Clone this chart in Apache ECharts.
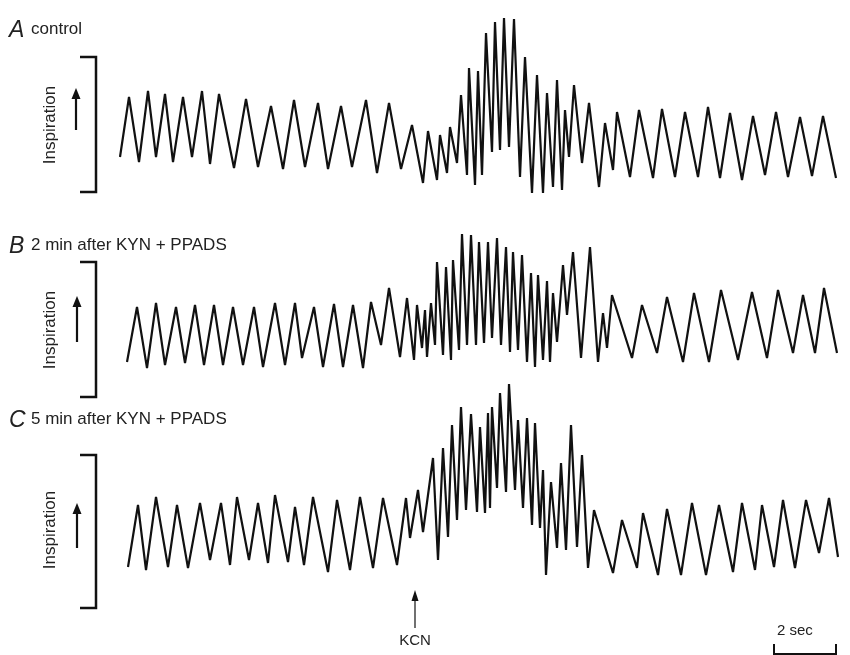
<!DOCTYPE html>
<html>
<head>
<meta charset="utf-8">
<script src="https://cdn.jsdelivr.net/npm/echarts@6/dist/echarts.min.js"></script>
<style>html,body{margin:0;padding:0;background:#fff}#c{width:850px;height:655px}</style>
</head>
<body>
<div id="c"></div>
<script>
// Time in record units (63 units = 2 sec), amplitude in arbitrary units (inspiration up)
const timeA = [120,129,139,148,156,165,173,183,192,202,210,219,234,246,258,271,283,294,305,318,328,341,352,366,377,389,401,412,423,428,437,440,447,450,457,461,467,469,475,478,482,486,492,495,500,504,509,514,520,525,532,537,543,547,553,557,562,565,569,574,582,589,599,605,613,617,630,639,653,662,675,685,698,708,720,730,742,753,765,776,788,800,812,823,836];
const traceA = [43,103,38,109,43,106,38,103,43,109,36,106,32,101,33,94,31,100,33,97,31,94,33,100,27,97,31,75,17,69,20,65,27,73,37,105,25,132,15,129,25,167,48,178,50,182,53,181,23,143,7,125,7,107,13,120,10,90,43,115,37,97,13,77,30,88,23,90,22,91,23,88,23,93,22,87,20,84,25,88,23,83,24,84,22];

const timeB = [127,137,147,156,165,176,185,195,204,214,223,233,243,254,263,275,285,295,302,314,323,334,343,353,363,371,381,389,400,407,414,417,422,425,427,431,435,437,443,446,451,453,459,462,467,471,476,479,484,488,492,497,501,506,510,513,518,522,527,531,535,538,543,547,550,553,557,563,567,573,581,590,598,603,607,612,632,642,657,667,683,694,709,721,738,752,767,778,793,803,815,824,837];
const traceB = [18,73,12,77,15,73,17,75,15,75,15,73,15,73,13,77,15,77,22,73,13,76,13,75,12,78,35,92,23,82,20,75,32,70,23,77,35,118,25,113,20,120,30,146,35,145,35,138,37,138,42,142,35,133,28,128,30,125,18,107,13,105,20,99,18,87,38,115,65,128,22,133,18,67,32,85,22,75,27,83,18,87,18,90,20,88,22,90,27,85,27,92,27];

const timeC = [128,138,146,156,168,177,188,200,210,221,230,237,249,258,268,275,288,295,304,313,328,337,350,360,373,383,397,406,410,418,423,433,438,443,448,452,457,461,466,471,477,480,485,488,490,492,497,500,506,509,515,518,523,527,532,535,540,543,546,551,557,561,566,571,577,582,588,594,613,622,637,643,658,667,681,692,706,719,733,742,755,762,774,783,795,806,819,829,838];
const traceC = [23,85,20,93,23,85,22,87,30,87,25,93,30,87,27,95,28,83,25,93,18,90,20,93,22,92,25,92,52,100,58,132,30,142,53,165,70,183,80,176,78,163,77,177,82,183,102,197,98,206,100,170,82,172,65,167,62,120,15,108,42,127,40,165,43,135,22,80,17,70,22,77,15,81,15,87,15,85,18,87,20,85,23,90,22,90,37,92,33];

const panelLetters = ['A', 'B', 'C'];
const panelTitles = ['control', '2 min after KYN + PPADS', '5 min after KYN + PPADS'];
const axisLabel = 'Inspiration';
const stimulusLabel = 'KCN';
const scaleLabel = '2 sec';

const zip = (t, v) => t.map((x, i) => [x, v[i]]);

const chart = echarts.init(document.getElementById('c'), null, {renderer: 'canvas'});
const FONT = '"Liberation Sans", Arial, sans-serif';
const INK = '#111';

const grids = [
  {left: 118, width: 720, top: 10, height: 190},
  {left: 118, width: 720, top: 220, height: 160},
  {left: 118, width: 720, top: 370, height: 220}
];
const yMax = [190, 160, 220];

function xAx(i){return {type:'value', gridIndex:i, min:118, max:838, show:false};}
function yAx(i){return {type:'value', gridIndex:i, min:0, max:yMax[i], show:false};}
function ser(i, data){return {type:'line', xAxisIndex:i, yAxisIndex:i, data:data, showSymbol:false, symbol:'none', lineStyle:{color:INK, width:2.2}, animation:false, silent:true};}

const graphics = [];
function bracket(top, bottom){
  graphics.push({type:'polyline', shape:{points:[[80,top],[96,top],[96,bottom],[80,bottom]]}, style:{stroke:INK, lineWidth:2.5, fill:null}});
}
function arrow(x, y1, y2, w, lw){
  graphics.push({type:'line', shape:{x1:x, y1:y2, x2:x, y2:y1+6}, style:{stroke:INK, lineWidth:lw}});
  graphics.push({type:'polygon', shape:{points:[[x,y1],[x-w,y1+11],[x+w,y1+11]]}, style:{fill:INK}});
}
function inspText(cy){
  graphics.push({type:'text', x:50, y:cy, rotation:Math.PI/2, style:{text:axisLabel, font:'17px ' + FONT, fill:'#222', align:'center', verticalAlign:'middle'}});
}
const letterTops = [19, 235, 409];
panelLetters.forEach((L, i) => {
  graphics.push({type:'text', x:9, y:letterTops[i], style:{text:L, font:'italic 23px ' + FONT, fill:'#222'}});
  graphics.push({type:'text', x:31, y:letterTops[i] + 2, style:{text:panelTitles[i], font:'17px ' + FONT, fill:'#222'}});
});
bracket(57, 192); bracket(262, 397); bracket(455, 608);
arrow(76, 88, 130, 4.5, 2.2); arrow(77, 296, 342, 4.5, 2.2); arrow(77, 503, 548, 4.5, 2.2);
inspText(125); inspText(330); inspText(530);
// KCN marker
arrow(415, 590, 628, 3.5, 1.2);
graphics.push({type:'text', x:415, y:633, style:{text:stimulusLabel, font:'15px ' + FONT, fill:'#222', align:'center'}});
// time scale bar
graphics.push({type:'text', x:777, y:623, style:{text:scaleLabel, font:'15px ' + FONT, fill:'#222'}});
graphics.push({type:'polyline', shape:{points:[[774,644],[774,654],[836,654],[836,644]]}, style:{stroke:INK, lineWidth:2, fill:null}});

chart.setOption({
  animation:false,
  backgroundColor:'#fff',
  grid: grids,
  xAxis: [xAx(0), xAx(1), xAx(2)],
  yAxis: [yAx(0), yAx(1), yAx(2)],
  series: [ser(0, zip(timeA, traceA)), ser(1, zip(timeB, traceB)), ser(2, zip(timeC, traceC))],
  graphic: graphics
});
</script>
</body>
</html>
